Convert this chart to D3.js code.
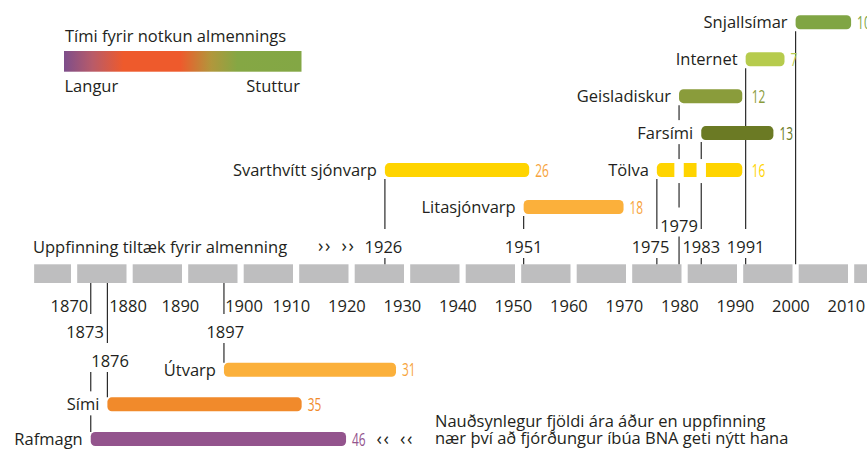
<!DOCTYPE html>
<html><head><meta charset="utf-8">
<script src="https://cdn.jsdelivr.net/npm/d3@7"></script>
<style>body{margin:0;background:#fff}svg{display:block}text{font-family:"Open Sans",sans-serif}</style>
</head><body><svg id="c" width="867" height="454"></svg>
<script>
// ---------- data ----------
const inventions = ["Snjallsímar","Internet","Geisladiskur","Farsími","Tölva","Svarthvítt sjónvarp","Litasjónvarp","Útvarp","Sími","Rafmagn"];
const startYears = [2000,1991,1979,1983,1975,1926,1951,1897,1876,1873];
const yearsToQuarter = [10,7,12,13,16,26,18,31,35,46];
const sides = ["up","up","up","up","up","up","up","down","down","down"];
const rows = [0,1,2,3,4,4,5,0,1,2];
const yearLabelLevel = [null,0,1,0,0,0,0,0,1,0];
const barColors = ["#80a544","#b6cb4d","#8a9c3b","#6b7a24","#ffd400","#ffd400","#fbb03b","#fbb03b","#f18a2b","#93548d"];
const numberColors = ["#80a544","#b6cb4d","#8a9c3b","#6b7a24","#ffd400","#f7a43c","#f7a43c","#f7a43c","#f18a2b","#93548d"];
const decadeTicks = [1870,1880,1890,1900,1910,1920,1930,1940,1950,1960,1970,1980,1990,2000,2010];
const legendTitle = "Tími fyrir notkun almennings";
const legendLow = "Langur", legendHigh = "Stuttur";
const axisTitle = "Uppfinning tiltæk fyrir almenning";
const footnote = ["Nauðsynlegur fjöldi ára áður en uppfinning","nær því að fjórðungur íbúa BNA geti nýtt hana"];
const gradientColors = ["#7d4e8b","#b85b69","#ee5a2c","#ee5a2c","#b1973c","#85a744","#83a745"];
const gradientOffsets = [0,0.12,0.25,0.49,0.62,0.73,1];

// ---------- setup ----------
const svg = d3.select("#c");
const ink = "#231f20", fs = 16.5;
const x = d3.scaleLinear().domain([1870,2010]).range([74.1,851.1]);
const yUp = d3.scaleLinear().domain([0,5]).range([22.3,207]);
const yDown = d3.scaleLinear().domain([0,2]).range([369.7,439]);
const barH = 14, axisTop = 264.3, axisBottom = 283, axisStart = 1862.8;

const items = inventions.map((name,i)=>({
  name, start:startYears[i], dur:yearsToQuarter[i], end:startYears[i]+yearsToQuarter[i],
  color:barColors[i], numColor:numberColors[i], side:sides[i], row:rows[i], level:yearLabelLevel[i]
}));
items.forEach(d=>{ d.cy = d.side==="up" ? yUp(d.row) : yDown(d.row); });

// ---------- legend ----------
const defs = svg.append("defs");
const grad = defs.append("linearGradient").attr("id","lg");
grad.selectAll("stop").data(gradientColors).join("stop")
  .attr("offset",(c,i)=>gradientOffsets[i]).attr("stop-color",c=>c);
svg.append("text").attr("x",65).attr("y",41.5).attr("font-size",fs).attr("fill",ink).text(legendTitle);
svg.append("rect").attr("x",64).attr("y",51).attr("width",237.5).attr("height",20.7).attr("fill","url(#lg)");
svg.append("text").attr("x",64.5).attr("y",91.5).attr("font-size",fs).attr("fill",ink).text(legendLow);
svg.append("text").attr("x",300).attr("y",91.5).attr("text-anchor","end").attr("font-size",fs).attr("fill",ink).text(legendHigh);

// ---------- axis blocks ----------
const decades = d3.range(1860,2020,10);
svg.append("g").selectAll("rect").data(decades).join("rect")
  .attr("x",d=>Math.max(x(d)+3.1, x(axisStart)))
  .attr("width",d=>Math.min(x(d+10)-3.1, 867) - Math.max(x(d)+3.1, x(axisStart)))
  .attr("y",axisTop).attr("height",axisBottom-axisTop).attr("fill","#bebebf");

const tickNudge = {1880:-1.6, 1900:3.4};
svg.append("g").selectAll("text").data(decadeTicks).join("text")
  .attr("x",d=>x(d)+(tickNudge[d]!==undefined?tickNudge[d]:-4.7)).attr("y",311.5)
  .attr("text-anchor","middle").attr("font-size",fs).attr("fill",ink).text(d=>d);

// ---------- connector lines ----------
svg.append("g").selectAll("line").data(items).join("line")
  .attr("x1",d=>x(d.start)).attr("x2",d=>x(d.start))
  .attr("y1",d=>d.side==="up"?axisTop:axisBottom)
  .attr("y2",d=>d.side==="up"? d.cy+barH/2+2 : d.cy-barH/2)
  .attr("stroke","#2b2b2b").attr("stroke-width",1.2);

// ---------- labels with knockouts ----------
const knockG = svg.append("g"), textG = svg.append("g");
function knockText(px, py, str, anchor, padTop, padSide){
  const t = textG.append("text").attr("x",px).attr("y",py).attr("text-anchor",anchor)
    .attr("font-size",fs).attr("fill",ink).text(str);
  const b = t.node().getBBox();
  knockG.append("rect").attr("x",b.x-padSide).attr("y",b.y-padTop)
    .attr("width",b.width+2*padSide).attr("height",b.height+padTop).attr("fill","#fff");
}
// item names
items.forEach(d=> knockText(x(d.start)-8, d.cy+6, d.name, "end", 1, 1));
// year labels
const yearNudge = {1873:-5.7, 1876:2.7, 1897:1.3, 1926:-1.5, 1975:-6.3};
items.filter(d=>d.level!==null).forEach(d=>{
  const by = d.side==="up" ? (d.level===0?253:231.5) : (d.level===0?338:367);
  knockText(x(d.start)+(yearNudge[d.start]||0), by, String(d.start), "middle", 6, 2);
});
// axis title and markers
textG.append("text").attr("x",33).attr("y",253).attr("font-size",fs).attr("fill",ink).text(axisTitle);
[318,341.5].forEach(px=> textG.append("text").attr("x",px).attr("y",252).attr("font-size",18)
  .attr("letter-spacing",1.5).attr("fill",ink).text("››"));
[376.5,400].forEach(px=> textG.append("text").attr("x",px).attr("y",445).attr("font-size",18)
  .attr("letter-spacing",1.5).attr("fill",ink).text("‹‹"));
footnote.forEach((s,i)=> textG.append("text").attr("x",435).attr("y",427+i*16.8).attr("font-size",fs).attr("fill",ink).text(s));

// ---------- bars ----------
const lineYears = new Set(items.filter(d=>d.side==="up").map(d=>d.start));
svg.append("g").selectAll("rect").data(items).join("rect")
  .attr("x",d=>x(d.start))
  .attr("width",d=> x(d.end) - x(d.start) - (d.side==="up" && lineYears.has(d.end) ? 3.4 : 0))
  .attr("y",d=>d.cy-barH/2).attr("height",barH).attr("rx",4.5)
  .attr("fill",d=>d.color);

// breaks where connector lines pass through the PC bar
const barBreaks = {"Tölva":[1979,1983]};
items.filter(d=>barBreaks[d.name]).forEach(d=>{
  svg.append("g").selectAll("rect").data(barBreaks[d.name]).join("rect")
    .attr("x",yr=>x(yr)-4.7).attr("width",9.4)
    .attr("y",d.cy-barH/2-4).attr("height",barH+10).attr("fill","#fff");
});

// ---------- numbers ----------
svg.append("g").selectAll("text").data(items).join("text")
  .attr("transform",d=>`translate(${x(d.end)+6},${d.cy+6.5}) scale(0.68,1)`)
  .attr("font-size",17.5).attr("fill",d=>d.numColor).text(d=>d.dur);
</script></body></html>
